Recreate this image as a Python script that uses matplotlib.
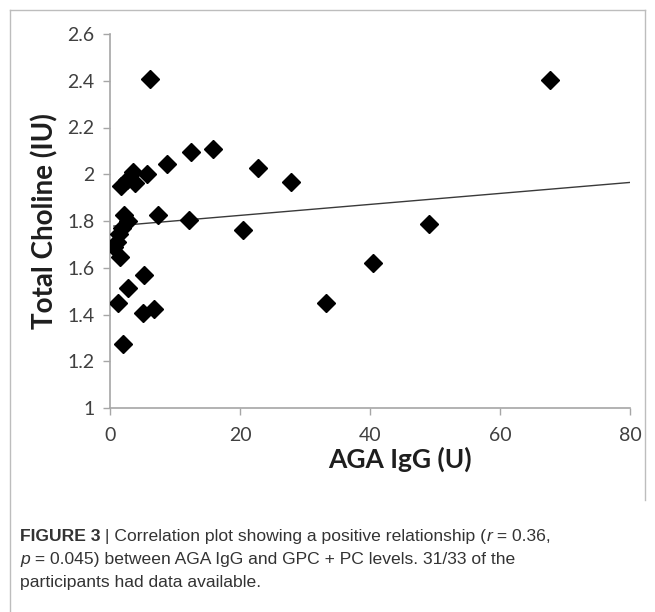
import matplotlib
matplotlib.use("Agg")
import matplotlib.pyplot as plt
from matplotlib.transforms import IdentityTransform
import numpy as np

# AGA IgG (U) vs total choline (IU)
aga_igg = [67.7, 6.2, 12.5, 15.8, 8.8, 22.8, 27.9, 5.7,
           1.7, 2.6, 3.6, 3.9,
           7.4, 12.1, 20.4, 49.1, 40.4, 33.3,
           2.2, 2.7, 1.9, 1.4, 1.0, 0.6, 1.6,
           5.3, 2.7, 1.3, 5.1, 6.7, 2.0]
choline = [2.405, 2.406, 2.095, 2.108, 2.043, 2.028, 1.966, 2.003,
           1.950, 1.975, 2.008, 1.962,
           1.826, 1.806, 1.763, 1.786, 1.622, 1.448,
           1.826, 1.800, 1.772, 1.744, 1.712, 1.690, 1.647,
           1.569, 1.512, 1.448, 1.408, 1.425, 1.275]

# linear trendline as drawn in the figure
trend_intercept = 1.777
trend_slope = 0.00235

x_ticks = [0, 20, 40, 60, 80]
y_ticks = [1, 1.2, 1.4, 1.6, 1.8, 2, 2.2, 2.4, 2.6]
y_tick_labels = ["1", "1.2", "1.4", "1.6", "1.8", "2", "2.2", "2.4", "2.6"]

W, H = 655, 612
fig = plt.figure(figsize=(W / 100, H / 100), dpi=100)
fig.patch.set_facecolor("white")

ax = fig.add_axes([110 / W, 1 - 408 / H, 520 / W, 374 / H])

tx = np.array([min(aga_igg), 80])
ax.plot(tx, trend_intercept + trend_slope * tx, color="#3a3a3a", lw=1.0, zorder=2)
ax.plot(aga_igg, choline, linestyle="none", marker="D", markersize=8.8,
        color="black", zorder=3)

ax.set_xlim(0, 80)
ax.set_ylim(1, 2.6)
ax.set_xticks(x_ticks)
ax.set_yticks(y_ticks)
ax.set_yticklabels(y_tick_labels)
for s in ["top", "right"]:
    ax.spines[s].set_visible(False)
for s in ["left", "bottom"]:
    ax.spines[s].set_color("#a6a6a6")
    ax.spines[s].set_linewidth(1.2)
ax.tick_params(axis="both", direction="out", length=5, width=1.0, color="#a6a6a6",
               labelsize=14, labelcolor="#404040")
ax.tick_params(axis="y", pad=6)
ax.tick_params(axis="x", pad=9)
for lab in ax.get_xticklabels() + ax.get_yticklabels():
    lab.set_fontfamily("Lato")

fig.text(45, H - 221, "Total Choline (IU)", transform=IdentityTransform(),
         rotation=90, ha="center", va="center", fontsize=20,
         fontweight="bold", family="Lato", color="#1e1e1e")
fig.text(400, H - 459, "AGA IgG (U)", transform=IdentityTransform(),
         ha="center", va="center", fontsize=19,
         fontweight="bold", family="Lato", color="#1e1e1e")

# frame around the figure panel
fig.add_artist(plt.Line2D([10, 645], [H - 10, H - 10], transform=IdentityTransform(),
                          color="#bdbdbd", lw=1))
fig.add_artist(plt.Line2D([10, 10], [H - 10, 0], transform=IdentityTransform(),
                          color="#bdbdbd", lw=1))
fig.add_artist(plt.Line2D([645, 645], [H - 10, H - 500], transform=IdentityTransform(),
                          color="#bdbdbd", lw=1))

# caption, drawn piece by piece to mix bold / italic
cap_font = ["Liberation Sans Narrow", "Liberation Sans", "DejaVu Sans"]
cap_size = 12.6
lines = [
    [("FIGURE 3", "bold", "normal"), (" | Correlation plot showing a positive relationship (", "normal", "normal"),
     ("r", "normal", "italic"), (" = 0.36,", "normal", "normal")],
    [("p", "normal", "italic"), (" = 0.045) between AGA IgG and GPC + PC levels. 31/33 of the", "normal", "normal")],
    [("participants had data available.", "normal", "normal")],
]
line_y = [H - 541, H - 564, H - 587]
fig.canvas.draw()
renderer = fig.canvas.get_renderer()
for pieces, yy in zip(lines, line_y):
    xx = 20
    for txt, wt, st in pieces:
        t = fig.text(xx, yy, txt, transform=IdentityTransform(), ha="left",
                     va="baseline", fontsize=cap_size, fontweight=wt, fontstyle=st,
                     family=cap_font, color="#333333")
        xx += t.get_window_extent(renderer).width

fig.savefig("out.png", dpi=100)
